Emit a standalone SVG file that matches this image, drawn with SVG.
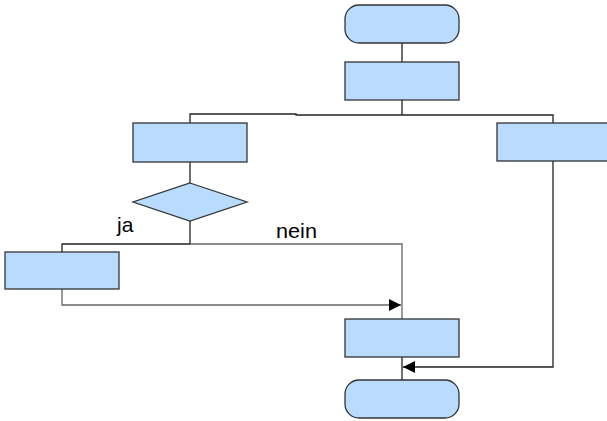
<svg xmlns="http://www.w3.org/2000/svg" width="607" height="421" viewBox="0 0 607 421">
<style>
.n{fill:#b9dbfe;stroke:#333;stroke-width:1.3}
.c{fill:none;stroke:#222;stroke-width:1.3}
.g{fill:none;stroke:#666;stroke-width:1.3}
.t{font-family:"Liberation Sans",Arial,sans-serif;font-size:21px;fill:#000}
</style>
<defs>
<marker id="a" markerWidth="12" markerHeight="12" refX="12" refY="6" orient="auto" markerUnits="userSpaceOnUse">
<path d="M0,0 L12,6 L0,12 Z" fill="#000"/>
</marker>
</defs>
<g id="connectors">
<path class="c" d="M402,43 V62"/>
<path class="c" d="M402,100 V115"/>
<path class="c" d="M190,123 V114 H296 V115 H553 V123"/>
<path class="c" d="M190,162 V183"/>
<path class="c" d="M190,221 V244 H62 V252"/>
<path class="g" d="M190,244 H402 V319"/>
<path class="g" d="M62,289 V305 H401" marker-end="url(#a)"/>
<path class="c" d="M402,357 V380"/>
<path class="c" d="M553,161 V367 H403" marker-end="url(#a)"/>
</g>
<g id="start"><rect class="n" x="345" y="5" width="114" height="38" rx="14"/></g>
<g id="box1"><rect class="n" x="345" y="62" width="114" height="38"/></g>
<g id="box2"><rect class="n" x="133" y="123" width="114" height="39"/></g>
<g id="box3"><rect class="n" x="497" y="123" width="114" height="38"/></g>
<g id="decision"><polygon class="n" points="190,183 247,202 190,221 133,202"/></g>
<g id="box4"><rect class="n" x="5" y="252" width="114" height="37"/></g>
<g id="box5"><rect class="n" x="345" y="319" width="114" height="38"/></g>
<g id="end"><rect class="n" x="345" y="380" width="114" height="38" rx="14"/></g>
<g id="labels">
<text class="t" x="117" y="232">ja</text>
<text class="t" x="276" y="238" textLength="41" lengthAdjust="spacingAndGlyphs">nein</text>
</g>
</svg>
